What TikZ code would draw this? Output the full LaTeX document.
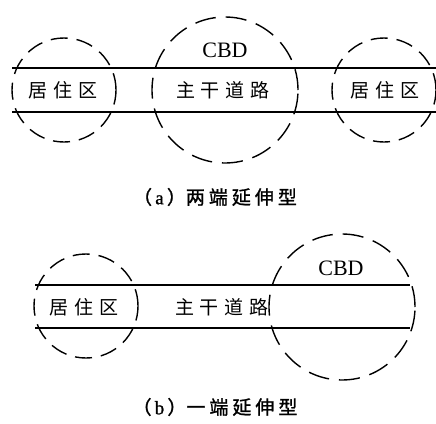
\documentclass[tikz,border=0pt]{standalone}
\usepackage{fontspec}
\newfontfamily\cjk{Noto Sans CJK SC}
\newfontfamily\cjkcap[FakeBold=1.2]{Noto Sans CJK SC}
\newfontfamily\capserif[FakeBold=1]{Liberation Serif}
\setmainfont{Liberation Serif}
\begin{document}
\begin{tikzpicture}[x=1pt,y=-1pt,
  road/.style={line width=1.3pt},
  smallzone/.style={line width=1.4pt, dash pattern=on 17pt off 9pt},
  bigzone/.style={line width=1.4pt, dash pattern=on 21pt off 10pt},
  label/.style={font=\cjk\fontsize{19}{19}\selectfont, inner sep=0pt},
  latin/.style={font=\fontsize{22}{22}\selectfont, inner sep=0pt},
  caption/.style={font=\cjkcap\fontsize{19}{19}\selectfont, inner sep=0pt}]
\useasboundingbox (0,0) rectangle (436,423);
% panel a
\coordinate (a1) at (12,68);
\coordinate (a2) at (440,68);
\coordinate (a3) at (12,112);
\coordinate (a4) at (440,112);
\draw[road] (a1) -- (a2);
\draw[road] (a3) -- (a4);
\node (ca1) [smallzone, draw, circle, minimum size=104pt, inner sep=0pt] at (64,90) {};
\node (ca2) [bigzone, draw, circle, minimum size=146pt, inner sep=0pt] at (225,90) {};
\node (ca3) [smallzone, draw, circle, minimum size=104pt, inner sep=0pt] at (384,90) {};
\node (ta1) [label] at (63,90) {居\hspace{6pt}住\hspace{6pt}区};
\node (ta2) [latin] at (225,50) {CBD};
\node (ta3) [label] at (223,90) {主\hspace{6pt}干\hspace{6pt}道\hspace{6pt}路};
\node (ta4) [label] at (385,90) {居\hspace{6pt}住\hspace{6pt}区};
\node (capa) [caption] at (215,197) {（\,{\capserif a}\,）两\hspace{4pt}端\hspace{4pt}延\hspace{4pt}伸\hspace{4pt}型};
% panel b
\coordinate (b1) at (35,285);
\coordinate (b2) at (410,285);
\coordinate (b3) at (35,328);
\coordinate (b4) at (410,328);
\draw[road] (b1) -- (b2);
\draw[road] (b3) -- (b4);
\node (cb1) [smallzone, draw, circle, minimum size=104pt, inner sep=0pt] at (86,306) {};
\node (cb2) [bigzone, draw, circle, minimum size=146pt, inner sep=0pt] at (342,307) {};
\node (tb1) [label] at (84,307) {居\hspace{6pt}住\hspace{6pt}区};
\node (tb2) [latin] at (341,268) {CBD};
\node (tb3) [label] at (222,307) {主\hspace{6pt}干\hspace{6pt}道\hspace{6pt}路};
\node (capb) [caption] at (215,407) {（\,{\capserif b}\,）一\hspace{4pt}端\hspace{4pt}延\hspace{4pt}伸\hspace{4pt}型};
\end{tikzpicture}
\end{document}
